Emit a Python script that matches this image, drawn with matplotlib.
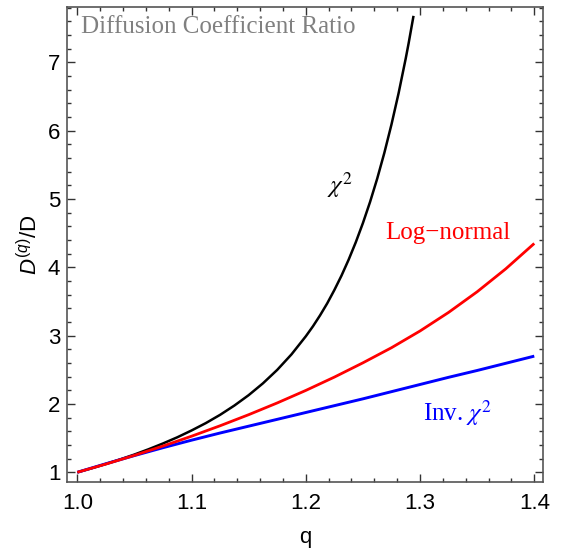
import matplotlib
matplotlib.use("Agg")
import matplotlib.pyplot as plt
from matplotlib.ticker import MultipleLocator

# ---- data ----
q_chi2 = [1.0, 1.0125, 1.025, 1.0375, 1.05, 1.0625, 1.075, 1.0875, 1.1, 1.1125,
          1.125, 1.1375, 1.15, 1.1625, 1.175, 1.1875, 1.2, 1.20625, 1.2125,
          1.21875, 1.225, 1.23125, 1.2375, 1.24375, 1.25, 1.25625, 1.2625,
          1.26875, 1.275, 1.28125, 1.2875, 1.29, 1.2943]
d_chi2 = [1.0, 1.059, 1.122, 1.189, 1.260, 1.338, 1.422, 1.512, 1.612, 1.720,
          1.841, 1.977, 2.129, 2.302, 2.499, 2.726, 2.990, 3.136, 3.297,
          3.472, 3.667, 3.878, 4.111, 4.366, 4.647, 4.956, 5.297,
          5.674, 6.090, 6.549, 7.058, 7.277, 7.68]

q_grid = [1.0, 1.025, 1.05, 1.075, 1.1, 1.125, 1.15, 1.175, 1.2, 1.225, 1.25,
          1.275, 1.3, 1.325, 1.35, 1.375, 1.4]
d_lognormal = [1.0, 1.120, 1.248, 1.384, 1.528, 1.681, 1.843, 2.015, 2.198, 2.393,
               2.602, 2.823, 3.068, 3.340, 3.642, 3.977, 4.349]
d_invchi2 = [1.0, 1.125, 1.245, 1.36, 1.47, 1.575, 1.675, 1.775, 1.875, 1.975,
             2.075, 2.18, 2.285, 2.39, 2.49, 2.595, 2.70]

x_ticks = [1.0, 1.1, 1.2, 1.3, 1.4]
x_ticklabels = ["1.0", "1.1", "1.2", "1.3", "1.4"]
y_ticks = [1, 2, 3, 4, 5, 6, 7]
y_ticklabels = ["1", "2", "3", "4", "5", "6", "7"]

plt.rcParams['mathtext.fontset'] = 'custom'
plt.rcParams['mathtext.rm'] = 'Liberation Sans'
plt.rcParams['mathtext.it'] = 'Liberation Sans:italic'

fig = plt.figure(figsize=(5.67, 5.5), dpi=100)
ax = fig.add_axes([67.3 / 567, 1 - 482 / 550, (543.3 - 67.3) / 567, (482 - 7.3) / 550])

ax.plot(q_chi2, d_chi2, color='black', lw=1.8, solid_capstyle='butt',
        solid_joinstyle='round')
ax.plot(q_grid, d_invchi2, color='#0000ff', lw=2.1, solid_capstyle='butt',
        solid_joinstyle='round')
ax.plot(q_grid, d_lognormal, color='#ff0000', lw=2.0, solid_capstyle='butt',
        solid_joinstyle='round')

ax.set_xlim(0.99125, 1.4079)
ax.set_ylim(0.858, 7.805)

frame_col = '#555555'
for s in ax.spines.values():
    s.set_color(frame_col)
    s.set_linewidth(1.2)

ax.set_xticks(x_ticks)
ax.set_xticklabels(x_ticklabels)
ax.set_yticks(y_ticks)
ax.set_yticklabels(y_ticklabels)
ax.xaxis.set_minor_locator(MultipleLocator(0.02))
ax.yaxis.set_minor_locator(MultipleLocator(0.2))
ax.tick_params(which='both', direction='in', top=True, right=True, color='#333333',
               width=1.0)
ax.tick_params(which='major', length=5.5)
ax.tick_params(which='minor', length=3.0)
ax.tick_params(axis='x', which='major', labelsize=16, pad=8)
ax.tick_params(axis='y', which='major', labelsize=16, pad=5)
for lab in ax.get_xticklabels() + ax.get_yticklabels():
    lab.set_fontfamily('Liberation Sans')

ax.set_xlabel('q', fontsize=16, family='Liberation Sans', labelpad=9)
ax.set_ylabel(r'$D^{(q)}$/D', fontsize=16, family='Liberation Sans', labelpad=4)

ax.text(1.003, 7.52, 'Diffusion Coefficient Ratio', color='#808080', fontsize=18,
        family='Liberation Serif', ha='left', va='center')
ax.text(1.230, 5.20, r'$\chi^2$', color='black', fontsize=18, ha='center', va='center',
        math_fontfamily='stix')
ax.text(1.3245, 4.50, 'Log\u2212normal', color='#ff0000', fontsize=18,
        family='Liberation Serif', ha='center', va='center')
ax.text(1.333, 1.86, r'Inv. $\chi^2$', color='#0000ff', fontsize=18,
        family='Liberation Serif', ha='center', va='center', math_fontfamily='stix')

fig.savefig('out.png', dpi=100)
